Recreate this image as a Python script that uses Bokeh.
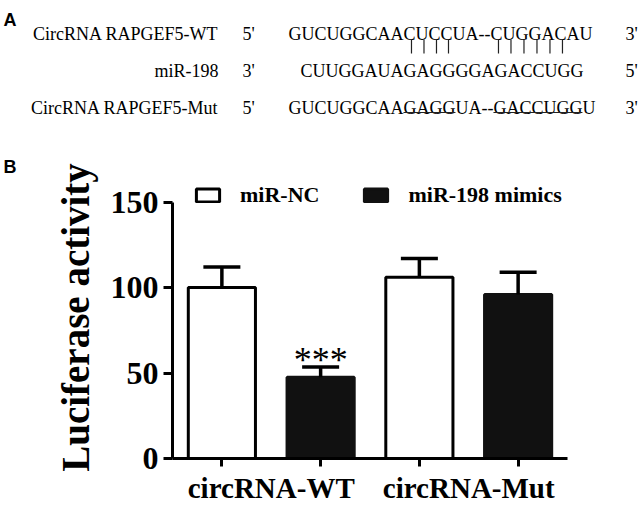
from bokeh.plotting import figure
from bokeh.models import (Range1d, FixedTicker, Legend, LegendItem, Whisker, TeeHead,
                          ColumnDataSource, Title)
from bokeh.embed import file_html
from bokeh.resources import INLINE
from bokeh.core.properties import value

# ---------------- Panel A content ----------------
row_labels = ["CircRNA RAPGEF5-WT", "miR-198", "CircRNA RAPGEF5-Mut"]
row_start_ends = ["5'", "3'", "5'"]
row_end_ends = ["3'", "5'", "3'"]
row_seqs = ["GUCUGGCAACUCCUA--CUGGACAU",
            "CUUGGAUAGAGGGGAGACCUGG",
            "GUCUGGCAAGAGGUA--GACCUGGU"]
pair_index = [9, 10, 11, 12, 17, 18, 19, 20, 21, 22]   # paired nucleotides of WT
mut_spans = [(9, 13), (17, 24)]                         # mutated stretches (underlined)

# ---------------- Panel B data ----------------
groups = ["circRNA-WT", "circRNA-Mut"]
treatments = ["miR-NC", "miR-198 mimics"]
nc_mean = [100, 106]
nc_err = [12, 11]
mimic_mean = [47.5, 96]
mimic_err = [6, 13]
y_ticks = [0, 50, 100, 150]
sig_marks = ["***", ""]

SERIF = "Liberation Serif"
SANS = "Liberation Sans"

# Times-metric character advance widths (em)
CW = {"G": 0.722, "U": 0.722, "C": 0.667, "A": 0.722, "-": 0.333}


def char_x(seq, i, x0, size):
    return x0 + sum(CW[c] for c in seq[:i]) * size


W = 642
HA = 151
HB = 506 - HA
FL, FR, FT, FB = 172, 567, 176, 460   # chart frame on the page

# =============== Panel A figure (page coordinates) ===============
pa = figure(width=W, height=HA, x_range=Range1d(0, W), y_range=Range1d(HA, 0),
            x_axis_location=None, y_axis_location=None,
            output_backend="svg", toolbar_location=None, min_border=0)
pa.grid.visible = False
pa.outline_line_color = None

fs = 18
baselines = [33, 70, 107]
seq_x = [288, 300, 288]
common = dict(text_font=value(SERIF), text_font_size=f"{fs}px",
              text_baseline="alphabetic", text_color="black")
pa.text(x=[218] * 3, y=baselines, text=row_labels, text_align="right", **common)
pa.text(x=[242] * 3, y=baselines, text=row_start_ends, text_align="left", **common)
pa.text(x=seq_x, y=baselines, text=row_seqs, text_align="left", **common)
pa.text(x=[625] * 3, y=baselines, text=row_end_ends, text_align="left", **common)

wt = row_seqs[0]
px = [char_x(wt, i, seq_x[0], fs) + CW[wt[i]] * fs / 2 + 2 for i in pair_index]
pa.segment(x0=px, y0=[39] * len(px), x1=px, y1=[53] * len(px),
           line_color="#222222", line_width=1.2)

mut = row_seqs[2]
ux0 = [char_x(mut, a, seq_x[2], fs) for a, b in mut_spans]
ux1 = [char_x(mut, b, seq_x[2], fs) for a, b in mut_spans]
pa.segment(x0=ux0, y0=[112] * len(ux0), x1=ux1, y1=[112] * len(ux0),
           line_color="#222222", line_width=1.2)

pa.text(x=[3], y=[19], text=["A"], text_font=value(SANS), text_font_style="bold",
        text_font_size="18px", text_baseline="alphabetic", text_color="black")

# =============== Panel B figure (chart) ===============
pb = figure(width=W, height=HB, x_range=Range1d(0.5, 4.5), y_range=Range1d(0, 165),
            output_backend="svg", toolbar_location=None,
            min_border_left=FL, min_border_right=W - FR,
            min_border_top=FT - HA, min_border_bottom=506 - FB)
pb.grid.visible = False
pb.outline_line_color = None

pb.add_layout(Title(text="B", align="left", offset=3 - FL, standoff=0,
                    text_font=SANS, text_font_style="bold", text_font_size="18px",
                    text_color="black"), "above")

nc_x = [2 * i + 1 for i in range(len(groups))]
mim_x = [2 * i + 2 for i in range(len(groups))]

nc_src = ColumnDataSource(dict(x=nc_x, top=nc_mean, upper=[m + e for m, e in zip(nc_mean, nc_err)]))
mim_src = ColumnDataSource(dict(x=mim_x, top=mimic_mean, upper=[m + e for m, e in zip(mimic_mean, mimic_err)]))

r_nc = pb.vbar(x="x", top="top", width=0.68, source=nc_src, fill_color="white",
               line_color="black", line_width=3)
r_mim = pb.vbar(x="x", top="top", width=0.68, source=mim_src, fill_color="#111111",
                line_color="#111111", line_width=3)

for src in (nc_src, mim_src):
    pb.add_layout(Whisker(base="x", upper="upper", lower="top", source=src,
                          upper_head=TeeHead(size=37, line_width=3.5, line_color="black"),
                          lower_head=None, line_width=3.5, line_color="black", level="glyph"))

pb.text(x=mim_x, y=[m + e for m, e in zip(mimic_mean, mimic_err)], text=sig_marks,
        text_font=value(SERIF), text_font_size="36px", text_align="center",
        text_baseline="alphabetic", y_offset=-7, text_color="black")

yax = pb.yaxis[0]
yax.ticker = FixedTicker(ticks=y_ticks)
yax.bounds = (0, 150)
yax.axis_line_width = 3
yax.axis_line_color = "black"
yax.major_tick_line_width = 3
yax.major_tick_line_color = "black"
yax.major_tick_out = 9
yax.major_tick_in = 0
yax.minor_tick_line_color = None
yax.major_label_text_font = SERIF
yax.major_label_text_font_style = "bold"
yax.major_label_text_font_size = "32px"
yax.major_label_text_color = "black"
yax.major_label_standoff = 5
yax.axis_label = "Luciferase activity"
yax.axis_label_text_font = SERIF
yax.axis_label_text_font_style = "bold"
yax.axis_label_text_font_size = "39px"
yax.axis_label_text_color = "black"
yax.axis_label_standoff = 11

group_pos = [2 * i + 1.5 for i in range(len(groups))]
xax = pb.xaxis[0]
xax.ticker = FixedTicker(ticks=group_pos, minor_ticks=nc_x + mim_x)
xax.major_label_overrides = {gp: g for gp, g in zip(group_pos, groups)}
xax.major_tick_line_color = None
xax.major_tick_out = 0
xax.major_tick_in = 0
xax.minor_tick_out = 8
xax.minor_tick_in = 0
xax.minor_tick_line_width = 3
xax.minor_tick_line_color = "black"
xax.axis_line_width = 3
xax.axis_line_color = "black"
xax.major_label_text_font = SERIF
xax.major_label_text_font_style = "bold"
xax.major_label_text_font_size = "29px"
xax.major_label_text_color = "black"
xax.major_label_standoff = 5

legend = Legend(items=[LegendItem(label=treatments[0], renderers=[r_nc]),
                       LegendItem(label=treatments[1], renderers=[r_mim])],
                orientation="horizontal", location=(21, FB - 210),
                label_text_font=SERIF, label_text_font_style="bold", label_text_font_size="22px",
                label_text_color="black",
                glyph_width=29, glyph_height=16, label_standoff=18, spacing=42,
                padding=0, margin=0, border_line_alpha=0, background_fill_alpha=0)
pb.add_layout(legend)

open("out.html", "w").write(file_html([pa, pb], INLINE))
